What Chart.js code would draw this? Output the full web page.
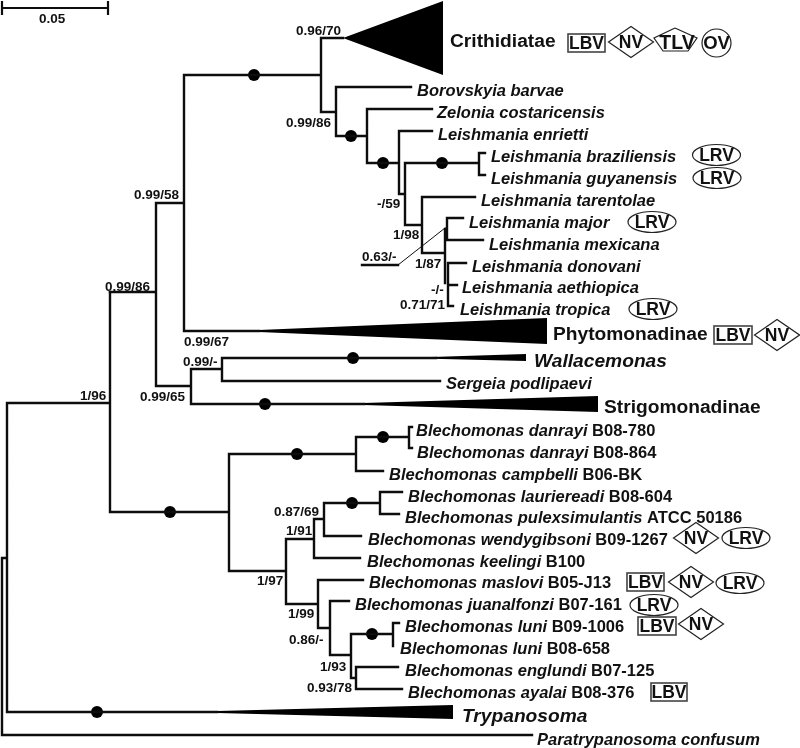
<!DOCTYPE html>
<html>
<head>
<meta charset="utf-8">
<title>Trypanosomatid tree</title>
<script src="https://cdn.jsdelivr.net/npm/chart.js@4/dist/chart.umd.min.js"></script>
<style>
  html, body { margin: 0; padding: 0; background: #fff; }
  canvas { display: block; }
</style>
</head>
<body>
<canvas id="tree" width="800" height="748"></canvas>
<script>
// Branches: [x1, y1, x2, y2]
const scaleBar = [
  [2, 8, 108, 8], [2, 2, 2, 14], [108, 2, 108, 14]
];
const upperBranches = [
  [184, 75, 321, 75], [184, 75, 184, 331], [321, 38, 321, 112], [321, 38, 343, 38],
  [321, 112, 336, 112], [336, 87, 336, 136], [336, 87, 411, 87], [336, 136, 367, 136],
  [367, 109, 367, 163], [367, 109, 432, 109], [367, 163, 399, 163], [399, 131, 399, 194],
  [399, 131, 432, 131], [399, 194, 405, 194], [405, 163, 405, 225], [405, 163, 479, 163],
  [479, 153, 479, 175], [479, 153, 485, 153], [479, 175, 485, 175], [405, 225, 422, 225],
  [422, 197, 422, 253], [422, 197, 475, 197], [422, 253, 445, 253], [445, 229, 445, 283],
  [447, 218, 447, 240], [445, 229, 447, 229], [447, 218, 463, 218], [447, 240, 483, 240],
  [448, 263, 448, 306], [448, 263, 466, 263], [448, 285, 457, 285], [448, 306, 453, 306],
  [362, 265, 398, 265],
  [184, 331, 259, 331], [110, 292, 156, 292], [156, 203, 156, 386], [156, 203, 184, 203],
  [156, 386, 191, 386], [191, 369, 191, 404], [191, 369, 222, 369], [222, 358, 222, 381],
  [222, 358, 436, 358], [222, 381, 440, 381], [191, 404, 364, 404]
];
const lowerBranches = [
  [2, 558, 2, 735], [2, 558, 7, 558], [2, 735, 532, 735], [7, 403, 7, 712], [7, 403, 110, 403],
  [7, 712, 217, 712], [110, 292, 110, 512], [110, 512, 229, 512], [229, 454, 229, 571],
  [229, 454, 356, 454], [356, 437, 356, 471], [356, 437, 408, 437], [356, 471, 383, 471],
  [409, 427, 409, 448], [409, 427, 412, 427], [409, 448, 412, 448], [229, 571, 286, 571],
  [286, 539, 286, 604], [286, 539, 314, 539], [314, 519, 314, 558], [314, 519, 324, 519],
  [324, 503, 324, 536], [324, 503, 380, 503], [380, 492, 380, 514], [380, 492, 402, 492],
  [380, 514, 399, 514], [324, 536, 361, 536], [314, 558, 360, 558], [286, 604, 318, 604],
  [318, 580, 318, 628], [318, 580, 363, 580], [318, 628, 330, 628], [330, 601, 330, 655],
  [330, 601, 349, 601], [330, 655, 351, 655], [351, 634, 351, 678], [351, 634, 393, 634],
  [393, 623, 393, 646], [393, 623, 399, 623], [351, 678, 356, 678], [356, 667, 356, 689],
  [356, 667, 398, 667], [356, 689, 402, 689]
];
const pointerLine = [[398, 265, 445, 228]];

// Collapsed clades: apex x, y, base x, base top, base bottom
const clades = [
  [343, 38, 443, 1, 75],
  [235, 331, 547, 318, 344],
  [400, 358, 526, 354, 361],
  [330, 404, 598, 396, 412],
  [178, 712, 453, 705, 719]
];
const dotX = [254, 351, 383, 442, 353, 265, 170, 297, 383, 352, 372, 97];
const dotY = [75, 136, 163, 163, 358, 404, 512, 454, 437, 503, 634, 712];

// Taxa: italic name, strain, x, y
const taxa = [
  ['Borovskyia barvae', '', 417, 90],
  ['Zelonia costaricensis', '', 437, 112],
  ['Leishmania enrietti', '', 438, 134],
  ['Leishmania braziliensis', '', 491, 156],
  ['Leishmania guyanensis', '', 491, 178],
  ['Leishmania tarentolae', '', 481, 200],
  ['Leishmania major', '', 469, 222],
  ['Leishmania mexicana', '', 489, 244],
  ['Leishmania donovani', '', 472, 266],
  ['Leishmania aethiopica', '', 462, 287],
  ['Leishmania tropica', '', 460, 309],
  ['Sergeia podlipaevi', '', 446, 383],
  ['Blechomonas danrayi', 'B08-780', 416, 430],
  ['Blechomonas danrayi', 'B08-864', 417, 452],
  ['Blechomonas campbelli', 'B06-BK', 389, 474],
  ['Blechomonas lauriereadi', 'B08-604', 408, 496],
  ['Blechomonas pulexsimulantis', 'ATCC 50186', 405, 517],
  ['Blechomonas wendygibsoni', 'B09-1267', 368, 539],
  ['Blechomonas keelingi', 'B100', 367, 561],
  ['Blechomonas maslovi', 'B05-J13', 369, 582],
  ['Blechomonas juanalfonzi', 'B07-161', 355, 604],
  ['Blechomonas luni', 'B09-1006', 405, 626],
  ['Blechomonas luni', 'B08-658', 400, 648],
  ['Blechomonas englundi', 'B07-125', 405, 670],
  ['Blechomonas ayalai', 'B08-376', 408, 692],
  ['Paratrypanosoma confusum', '', 537, 739]
];
const groupNames = [
  ['Crithidiatae', 450, 41, false],
  ['Phytomonadinae', 553, 334, false],
  ['Wallacemonas', 534, 361, true],
  ['Strigomonadinae', 604, 407, false],
  ['Trypanosoma', 462, 716, true]
];
const supports = [
  ['0.96/70', 296, 30], ['0.99/86', 286, 122], ['-/59', 377, 203], ['1/98', 393, 234],
  ['0.63/-', 362, 256], ['1/87', 415, 263], ['-/-', 431, 289], ['0.71/71', 400, 304],
  ['0.99/58', 134, 194], ['0.99/86', 105, 286], ['0.99/67', 184, 341], ['0.99/-', 183, 361],
  ['0.99/65', 140, 396], ['1/96', 80, 395], ['0.87/69', 274, 511], ['1/91', 286, 530],
  ['1/97', 257, 580], ['1/99', 288, 613], ['0.86/-', 289, 639], ['1/93', 320, 666],
  ['0.93/78', 307, 687], ['0.05', 39, 18]
];
// Virus badges: label, centre x, centre y
const lbvBadges = [[568, 605, 34, 52], [714, 752, 326, 344], [627, 664, 573, 591], [638, 676, 617, 635], [651, 687, 683, 701]];
const nvBadges = [[631, 42], [777, 335], [696, 538], [691, 582], [701, 624]];
const lrvBadges = [[716.5, 155], [717, 178], [652, 222], [653, 309], [746, 538], [740, 583], [654, 605]];
const tlvShape = [[675, 28], [697, 38], [688, 51], [663, 51], [654, 38], [675, 28]];
const ovBadge = [716.5, 43];

// segments -> one line dataset, NaN breaks the path
function segPoints(segs) {
  const pts = [];
  segs.forEach(s => {
    pts.push({ x: s[0], y: s[1] }, { x: s[2], y: s[3] }, { x: NaN, y: NaN });
  });
  return pts;
}

function lineSet(segs, width) {
  return {
    type: 'scatter', data: segPoints(segs), showLine: true, spanGaps: false,
    borderColor: '#0d0d0d', borderWidth: width, pointRadius: 0, borderCapStyle: 'square', fill: false
  };
}

const cladeSets = clades.map(c => ({
  type: 'scatter',
  data: [{ x: c[0], y: c[1] }, { x: c[2], y: c[3] }, { x: c[2], y: c[4] }, { x: c[0], y: c[1] }],
  showLine: true, pointRadius: 0, borderWidth: 0, borderColor: '#000', backgroundColor: '#000', fill: 'shape'
}));

// text and badges go through the same scales as the tree
const treeLabels = {
  id: 'treeLabels',
  afterDatasetsDraw(chart) {
    const ctx = chart.ctx;
    const px = v => chart.scales.x.getPixelForValue(v);
    const py = v => chart.scales.y.getPixelForValue(v) + 1;
    ctx.save();
    ctx.textBaseline = 'middle';
    ctx.textAlign = 'left';
    ctx.fillStyle = '#111';

    taxa.forEach(t => {
      ctx.font = 'italic bold 16.5px "Liberation Sans"';
      ctx.fillText(t[0], px(t[2]), py(t[3]));
      if (t[1]) {
        const w = ctx.measureText(t[0] + ' ').width;
        ctx.font = 'bold 16.5px "Liberation Sans"';
        ctx.fillText(t[1], px(t[2]) + w, py(t[3]));
      }
    });
    groupNames.forEach(g => {
      ctx.font = (g[3] ? 'italic ' : '') + 'bold 19.2px "Liberation Sans"';
      ctx.fillText(g[0], px(g[1]), py(g[2]));
    });
    ctx.font = 'bold 13.5px "Liberation Sans"';
    supports.forEach(s => ctx.fillText(s[0], px(s[1]), py(s[2])));

    ctx.textAlign = 'center';
    ctx.font = 'bold 17.5px "Liberation Sans"';
    ctx.lineWidth = 1.2;
    ctx.strokeStyle = '#444';
    ctx.lineWidth = 1.6;
    lbvBadges.forEach(b => {
      ctx.strokeRect(px(b[0]), py(b[2]) - 1, px(b[1]) - px(b[0]), py(b[3]) - py(b[2]));
      ctx.fillText('LBV', px((b[0] + b[1]) / 2), py((b[2] + b[3]) / 2));
    });
    ctx.strokeStyle = '#222';
    ctx.lineWidth = 1.2;
    nvBadges.forEach(b => {
      ctx.beginPath();
      ctx.moveTo(px(b[0] - 22.5), py(b[1]) - 1);
      ctx.lineTo(px(b[0]), py(b[1] - 15.5) - 1);
      ctx.lineTo(px(b[0] + 22.5), py(b[1]) - 1);
      ctx.lineTo(px(b[0]), py(b[1] + 15.5) - 1);
      ctx.closePath();
      ctx.stroke();
      ctx.fillText('NV', px(b[0]), py(b[1]));
    });
    lrvBadges.forEach(b => {
      ctx.beginPath();
      ctx.ellipse(px(b[0]), py(b[1]) - 1, 24, 10.5, 0, 0, Math.PI * 2);
      ctx.stroke();
      ctx.fillText('LRV', px(b[0]), py(b[1]));
    });
    ctx.beginPath();
    tlvShape.forEach((p, i) => i ? ctx.lineTo(px(p[0]), py(p[1]) - 1) : ctx.moveTo(px(p[0]), py(p[1]) - 1));
    ctx.stroke();
    ctx.font = 'bold 19.5px "Liberation Sans"';
    ctx.fillText('TLV', px(677), py(43));
    ctx.beginPath();
    ctx.ellipse(px(ovBadge[0]), py(ovBadge[1]) - 1, 14.5, 14, 0, 0, Math.PI * 2);
    ctx.stroke();
    ctx.font = 'bold 18.5px "Liberation Sans"';
    ctx.fillText('OV', px(ovBadge[0]), py(ovBadge[1]));
    ctx.restore();
  }
};

new Chart(document.getElementById('tree').getContext('2d'), {
  type: 'scatter',
  data: {
    datasets: [
      lineSet(scaleBar, 2.2),
      lineSet(upperBranches, 2.4),
      lineSet(lowerBranches, 2.4),
      lineSet(pointerLine, 1),
      ...cladeSets,
      {
        type: 'scatter',
        data: dotX.map((x, i) => ({ x: x, y: dotY[i] })),
        pointRadius: 6, pointBackgroundColor: '#000', pointBorderWidth: 0, showLine: false
      }
    ]
  },
  options: {
    responsive: false,
    animation: false,
    layout: { padding: 0, autoPadding: false },
    scales: {
      x: { type: 'linear', display: false, min: 0, max: 800 },
      y: { type: 'linear', display: false, min: 0, max: 748, reverse: true }
    },
    plugins: { legend: { display: false }, tooltip: { enabled: false } }
  },
  plugins: [treeLabels]
});
</script>
</body>
</html>
